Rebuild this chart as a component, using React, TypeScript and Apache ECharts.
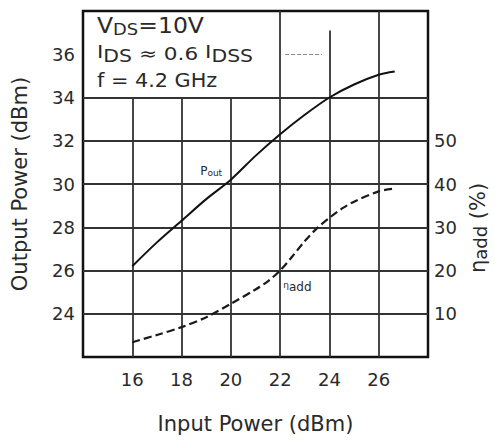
import React, { useEffect, useRef } from 'react';
import * as echarts from 'echarts';

// Axis ticks
const xTicks = [16, 18, 20, 22, 24, 26];
const leftTicks = [24, 26, 28, 30, 32, 34, 36];
const rightTicks = [10, 20, 30, 40, 50];

// Output power (dBm) vs input power (dBm)
const inputPower = [16, 17, 18, 19, 20, 21, 22, 23, 24, 25, 26, 26.65];
const outputPower = [26.2, 27.3, 28.3, 29.3, 30.2, 31.3, 32.3, 33.2, 34.0, 34.6, 35.05, 35.2];

// Power-added efficiency (%) vs input power (dBm)
const effInput = [16, 17, 18, 19, 20, 21, 21.5, 22, 22.5, 23, 23.5, 24, 24.5, 25, 26, 26.6];
const efficiency = [3.4, 5.1, 6.9, 9.2, 12.3, 15.6, 17.5, 20.0, 23.3, 26.8, 29.8, 32.2, 34.3, 35.9, 38.3, 38.9];

// Grid lines drawn on the chart (in axis units)
const vGridX = [16, 18, 20, 22, 24, 26];
const vGridTop = [34, 34, 34, 38, 37.1, 38];
const hGridY = [24, 26, 28, 30, 32, 34];
const hGrid36 = [22.2, 23.7];

// Curve labels (data coordinates)
const poutLabelAt = [19.2, 30.6];
const etaLabelAt = [22.7, 16.3];

// Text fragments: [text, fontSize, baseline shift]
type Frag = [string, number, number];
const condLine1: Frag[] = [['V', 21, 0], ['DS', 16, 2], ['=10V', 21, 0]];
const condLine2: Frag[] = [['I', 18, -2], ['DS', 17, 2], [' ≈ 0.6 ', 18, 0], ['I', 18, -2], ['DSS', 17, 2]];
const condLine3: Frag[] = [['f = 4.2 GHz', 20, 0]];
const rightTitle: Frag[] = [['η', 21, 0], ['add', 18, 2], [' (%)', 21, 0]];

const INK = '#2a2a2a';
const FONT = 'DejaVu Sans';

export default function App() {
  const ref = useRef<HTMLDivElement>(null);

  useEffect(() => {
    const chart = echarts.init(ref.current!, null, { renderer: 'svg' });

    const ctx = document.createElement('canvas').getContext('2d')!;
    const measure = (t: string, fs: number) => {
      ctx.font = `${fs}px "${FONT}"`;
      return ctx.measureText(t).width;
    };
    const textStyle = (t: string, fs: number) => ({
      text: t,
      fontSize: fs,
      fontFamily: FONT,
      fill: INK,
      align: 'left',
      verticalAlign: 'middle',
    });
    // horizontal line of fragments, left-aligned at x0 on the given baseline
    const lineElements = (frags: Frag[], x0: number, baseline: number, scale: number) => {
      let x = x0;
      return frags.map(([t, fs, dy]) => {
        const el = { type: 'text', x, y: baseline + dy - 0.35 * fs, scaleX: scale, style: textStyle(t, fs) };
        x += measure(t, fs) * scale;
        return el;
      });
    };
    // vertical (reads bottom to top) line of fragments, centred at yc, baseline at xb
    const vertElements = (frags: Frag[], xb: number, yc: number) => {
      const total = frags.reduce((s, [t, fs]) => s + measure(t, fs), 0);
      let y = yc + total / 2;
      return frags.map(([t, fs, dy]) => {
        const el = { type: 'text', x: xb + dy - 0.35 * fs, y, rotation: Math.PI / 2, style: textStyle(t, fs) };
        y -= measure(t, fs);
        return el;
      });
    };

    const gridLines: any[] = [
      ...vGridX.map((x, i) => [{ coord: [x, 22] }, { coord: [x, vGridTop[i]] }]),
      ...hGridY.map((y) => [{ coord: [14, y] }, { coord: [28, y] }]),
      [
        { coord: [hGrid36[0], 36], lineStyle: { type: 'dashed', color: '#8a8a8a', width: 1 } },
        { coord: [hGrid36[1], 36] },
      ],
    ];

    const option: any = {
      animation: false,
      backgroundColor: '#fff',
      color: ['#111', '#1a1a1a'],
      textStyle: { fontFamily: FONT, color: INK },
      grid: {
        left: 83,
        top: 11,
        width: 345,
        height: 346,
        show: true,
        borderColor: '#111',
        borderWidth: 2.5,
        backgroundColor: 'transparent',
      },
      xAxis: {
        type: 'value',
        min: 14,
        max: 28,
        interval: 2,
        axisLine: { show: false },
        axisTick: { show: false },
        splitLine: { show: false },
        axisLabel: {
          formatter: (v: number) => (xTicks.includes(v) ? String(v) : ''),
          fontSize: 18,
          fontFamily: FONT,
          color: INK,
          margin: 13,
        },
        name: 'Input Power (dBm)',
        nameLocation: 'middle',
        nameGap: 56,
        nameTextStyle: { fontSize: 21, fontFamily: FONT, color: INK },
      },
      yAxis: [
        {
          type: 'value',
          min: 22,
          max: 38,
          interval: 2,
          position: 'left',
          axisLine: { show: false },
          axisTick: { show: false },
          splitLine: { show: false },
          axisLabel: {
            formatter: (v: number) => (leftTicks.includes(v) ? String(v) : ''),
            fontSize: 18,
            fontFamily: FONT,
            color: INK,
            margin: 8,
          },
          name: 'Output Power (dBm)',
          nameLocation: 'middle',
          nameGap: 53,
          nameTextStyle: { fontSize: 21, fontFamily: FONT, color: INK },
        },
        {
          type: 'value',
          min: 0,
          max: 80,
          interval: 10,
          position: 'right',
          axisLine: { show: false },
          axisTick: { show: false },
          splitLine: { show: false },
          axisLabel: {
            formatter: (v: number) => (rightTicks.includes(v) ? String(v) : ''),
            fontSize: 18,
            fontFamily: FONT,
            color: INK,
            margin: 6,
          },
        },
      ],
      graphic: [
        ...lineElements(condLine1, 97, 33, 1.12),
        ...lineElements(condLine2, 97, 60, 1.2),
        ...lineElements(condLine3, 97, 87, 1.04),
        ...vertElements(rightTitle, 485, 228),
      ],
      series: [
        {
          name: 'Pout',
          type: 'line',
          yAxisIndex: 0,
          data: inputPower.map((x, i) => [x, outputPower[i]]),
          smooth: 0.3,
          symbol: 'none',
          itemStyle: { color: '#111' },
          lineStyle: { color: '#111', width: 2 },
          z: 3,
          markLine: {
            silent: true,
            symbol: ['none', 'none'],
            label: { show: false },
            lineStyle: { color: '#333', width: 1.8, type: 'solid' },
            data: gridLines,
            z: 1,
          },
          markPoint: {
            silent: true,
            symbol: 'circle',
            symbolSize: 0,
            itemStyle: { color: INK },
            label: {
              show: true,
              position: 'inside',
              color: INK,
              formatter: '{p|P}{s|out}',
              rich: {
                p: { fontSize: 12, fontFamily: FONT, color: INK, verticalAlign: 'bottom' },
                s: { fontSize: 9, fontFamily: FONT, color: INK, verticalAlign: 'bottom' },
              },
            },
            data: [{ coord: poutLabelAt }],
          },
        },
        {
          name: 'ηadd',
          type: 'line',
          yAxisIndex: 1,
          data: effInput.map((x, i) => [x, efficiency[i]]),
          smooth: 0.3,
          symbol: 'none',
          itemStyle: { color: '#1a1a1a' },
          lineStyle: { color: '#1a1a1a', width: 2.2, type: [8, 4] },
          z: 3,
          markPoint: {
            silent: true,
            symbol: 'circle',
            symbolSize: 0,
            itemStyle: { color: INK },
            label: {
              show: true,
              position: 'inside',
              color: INK,
              formatter: '{e|η}{s|add}',
              rich: {
                e: { fontSize: 9, fontFamily: FONT, color: INK, verticalAlign: 'top' },
                s: { fontSize: 12, fontFamily: FONT, color: INK, verticalAlign: 'bottom' },
              },
            },
            data: [{ coord: etaLabelAt }],
          },
        },
      ],
    };

    chart.setOption(option);
    return () => chart.dispose();
  }, []);

  return (
    <div
      ref={ref}
      style={{ position: 'fixed', left: 0, top: 0, width: 495, height: 441, background: '#fff' }}
    />
  );
}
